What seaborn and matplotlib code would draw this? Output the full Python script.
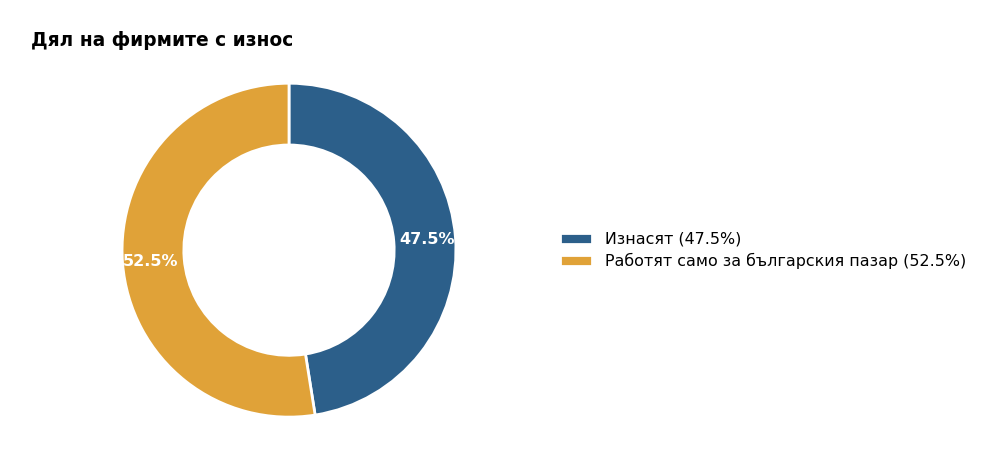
import matplotlib
matplotlib.use("Agg")
import matplotlib.pyplot as plt
import seaborn as sns

sns.set_style("white")
plt.rcParams['font.family'] = ['DejaVu Sans']
plt.rcParams['text.color'] = 'black'

categories = ["Изнасят", "Работят само за българския пазар"]
values = [47.5, 52.5]
colors = ["#2C5F8A", "#E0A238"]
title = "Дял на фирмите с износ"

fig = plt.figure(figsize=(10, 4.65), dpi=100)
ax = fig.add_axes([0.122, 0.103, 0.334, 0.718])
wedges, texts, autotexts = ax.pie(
    values, colors=colors, startangle=90, counterclock=False,
    autopct="%.1f%%", pctdistance=0.83,
    wedgeprops=dict(width=0.37, edgecolor="white", linewidth=2),
    textprops=dict(color="white", fontsize=11.5, fontweight="bold"),
)
ax.set_xlim(-1.0, 1.0)
ax.set_ylim(-1.0, 1.0)
ax.set_aspect("equal")

labels = [f"{c} ({v:.1f}%)" for c, v in zip(categories, values)]
fig.legend(wedges, labels, loc="center left", bbox_to_anchor=(0.546, 0.462),
           frameon=False, fontsize=11.4, labelspacing=0.38,
           handlelength=2.0, handletextpad=0.8)
fig.text(0.031, 0.913, title, fontsize=13.4, fontweight="bold", ha="left",
         va="center", color="black")

fig.savefig("out.png", dpi=100, facecolor="white")
